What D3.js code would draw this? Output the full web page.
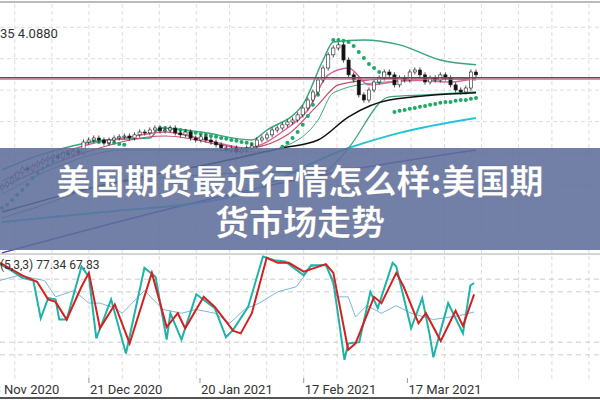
<!DOCTYPE html>
<html><head><meta charset="utf-8">
<script src="https://cdn.jsdelivr.net/npm/d3@7"></script>
<style>body{margin:0;background:#fff}svg{display:block}</style>
</head><body>
<svg id="c" width="600" height="400"></svg>
<script>
// closes per trading day (index 0..93)
const closes = [3.709,3.720,3.737,3.755,3.772,3.765,3.779,3.790,
  3.800,3.807,3.814,3.807,3.825,3.818,3.832,3.825,
  3.863,3.870,3.877,3.870,3.860,3.870,3.877,3.881,
  3.884,3.877,3.888,3.898,3.895,3.905,3.912,3.902,
  3.905,3.912,3.895,3.888,3.898,3.877,3.870,3.881,
  3.870,3.863,3.853,3.842,3.835,3.842,3.828,3.835,
  3.842,3.849,3.870,3.877,3.888,3.905,3.912,3.923,
  3.933,3.940,3.958,3.982,4.010,4.038,4.080,4.122,
  4.168,4.192,4.203,4.150,4.098,4.080,4.028,4.010,
  4.045,4.073,4.087,4.108,4.098,4.063,4.087,4.080,
  4.108,4.115,4.098,4.073,4.087,4.080,4.098,4.087,
  4.063,4.045,4.038,4.052,4.108,4.098];

const fastMA = [[0,3.725],[8,3.795],[16,3.850],[24,3.877],[32,3.898],[40,3.870],[48,3.842],[56,3.912],[60,3.975],[64,4.098],[68,4.122],[72,4.063],[80,4.080],[88,4.073],[93,4.087]];
const slowMA = [[0,3.705],[16,3.825],[32,3.884],[48,3.842],[56,3.888],[62,3.993],[66,4.063],[72,4.080],[80,4.087],[93,4.080]];
const bbUpper = [[0,3.765],[7,3.815],[14,3.850],[20,3.870],[29,3.877],[31,3.912],[39,3.898],[49,3.870],[52,3.905],[59,3.993],[63,4.150],[65,4.213],[71,4.220],[78,4.203],[86,4.150],[93,4.133]];
const bbMid = [[0,3.680],[10,3.770],[24,3.835],[40,3.835],[50,3.828],[58,3.870],[62,3.940],[65,4.035],[73,4.070],[85,4.080],[93,4.087]];
const bbLower = [[0,3.597],[7,3.636],[20,3.713],[40,3.748],[55,3.758],[62,3.748],[66,3.800],[68,3.842],[76,4.021],[83,4.028],[93,4.038]];
const ma50 = [[0,3.618],[20,3.713],[40,3.783],[55,3.842],[62,3.870],[68,3.951],[76,4.010],[93,4.035]];
const ma100 = [[0,3.583],[20,3.618],[45,3.671],[68,3.842],[78,3.895],[93,3.947]];
const ma200 = [[0,3.475],[65,3.755],[93,3.835]];
// parabolic SAR segments: [first index, values]
const sar = [
  [0,[3.632,3.643,3.660,3.678,3.695,3.713,3.737,3.755,3.770,3.782,3.795]],
  [18,[3.867,3.863,3.863,3.860,3.860,3.856,3.853]],
  [31,[3.912,3.912,3.909,3.905,3.905,3.902,3.898,3.895,3.891,3.888,3.884,3.881,3.877,3.874,3.870,3.867,3.863,3.860,3.856,3.853]],
  [55,[3.846,3.860,3.877,3.898,3.923,3.954,3.993,4.028]],
  [65,[4.220,4.220,4.217,4.213,4.199,4.178,4.157,4.136,4.122,4.108,4.098]],
  [77,[3.968,3.972,3.975,3.979,3.982,3.986,3.989,3.993,3.996,4.000,4.003,4.003,4.007,4.010,4.010,4.014,4.017]]
];
const lastPrice = 4.0880;

// stochastic, day offsets from 27 Nov 2020
const kDays = [0,3,6,9,11,13,15,16,18,22,24,26,30,34,39,42,45,46,49,53,58,61,63,67,71,74,77,82,84,88,90,93,94,97,100,102,106,107,111,114,116,117,121,125,127,128];
const kVals = [92,87,81,79,49,65,64,48,48,90,82,33,64,21,89,82,32,53,32,68,57,34,40,58,98,95,94,83,91,91,78,16,29,30,70,57,93,90,41,65,36,18,61,37,75,77];
const dDays = [0,6,10,13,15,18,22,24,27,31,35,41,45,48,50,55,58,63,65,68,72,75,78,82,88,90,94,96,101,103,107,109,113,115,119,123,125,128];
const dVals = [93,83,78,64,62,48,74,85,41,60,29,85,42,53,41,66,58,39,37,53,97,93,93,86,92,85,24,29,66,61,85,74,45,53,31,55,43,68];
const sDays = [0,5,12,15,20,24,27,31,33,39,44,49,53,58,62,66,70,75,80,84,88,91,94,96,99,103,107,111,117,124,128];
const sVals = [79,83,79,66,71,61,61,57,53,71,56,53,56,53,45,56,61,70,74,90,92,66,66,50,59,53,59,53,48,51,54];

const tickDates = ["23 Nov 2020","21 Dec 2020","20 Jan 2021","17 Feb 2021","17 Mar 2021"];
const legendText = "(5,3,3) 77.34 67.83";
const priceText = "35 4.0880";
const title = ["美国期货最近行情怎么样:美国期", "货市场走势"];

const svg = d3.select("#c");
const parse = d3.timeParse("%d %b %Y");
const t0 = parse("27 Nov 2020");
const xTime = d3.scaleTime().domain([t0, d3.timeDay.offset(t0, 162.6)]).range([0, 600]);
const xi = d3.scaleLinear().domain([0, 93]).range([2, 476]);
const y = d3.scaleLinear().domain([3.4675, 4.36]).range([255, 0]);
const ys = d3.scaleLinear().domain([0, 100]).range([380, 254]);

// grid
const gridX = d3.range(-6, 17).map(k => xTime(d3.timeDay.offset(parse("21 Dec 2020"), k * 29 / 3)));
svg.append("g").selectAll("line").data(gridX).join("line")
  .attr("x1", d => d).attr("x2", d => d).attr("y1", 4).attr("y2", 380)
  .attr("stroke", "#ddd").attr("stroke-dasharray", "4,3");
svg.append("g").selectAll("line").data(d3.range(4.2645, 3.5, -0.11)).join("line")
  .attr("x1", 0).attr("x2", 600).attr("y1", d => y(d)).attr("y2", d => y(d))
  .attr("stroke", "#ddd").attr("stroke-dasharray", "4,3");
svg.append("g").selectAll("line").data([80, 70, 30, 20]).join("line")
  .attr("x1", 0).attr("x2", 600).attr("y1", d => ys(d)).attr("y2", d => ys(d))
  .attr("stroke", "#ccc").attr("stroke-dasharray", "5,4");
svg.append("line").attr("x1", 0).attr("x2", 600).attr("y1", 2).attr("y2", 2).attr("stroke", "#bbb").attr("stroke-width", 2);
svg.append("line").attr("x1", 0).attr("x2", 600).attr("y1", 254).attr("y2", 254).attr("stroke", "#aaa");
svg.append("line").attr("x1", 0).attr("x2", 600).attr("y1", 398).attr("y2", 398).attr("stroke", "#555").attr("stroke-width", 2);

const line = d3.line().x(d => xi(d[0])).y(d => y(d[1])).curve(d3.curveMonotoneX);
function draw(data, color, w) {
  svg.append("path").attr("d", line(data)).attr("fill", "none").attr("stroke", color).attr("stroke-width", w);
}
draw(ma200, "#5b3fa8", 1.5);
draw(ma100, "#22c4d6", 2);
draw(bbLower, "#3aa57a", 1.3);
draw(bbUpper, "#3aa57a", 1.5);
draw(bbMid, "#3aa57a", 1);
draw(ma50, "#111", 1.5);
draw(slowMA, "#c0506a", 1.2);
draw(fastMA, "#e0609a", 1.5);

// SAR dots
sar.forEach(([s, vals]) => {
  svg.append("g").selectAll("circle").data(vals).join("circle")
    .attr("cx", (d, i) => xi(s + i)).attr("cy", d => y(d)).attr("r", 2).attr("fill", "#1fa866");
});

// candles
const candles = closes.map((c, i) => ({ i, o: i ? closes[i - 1] : c - 0.01, c }));
const cg = svg.append("g").selectAll("g").data(candles).join("g");
cg.append("line").attr("x1", d => xi(d.i)).attr("x2", d => xi(d.i))
  .attr("y1", d => y(Math.max(d.o, d.c) + 0.009)).attr("y2", d => y(Math.min(d.o, d.c) - 0.009))
  .attr("stroke", "#222").attr("stroke-width", 0.8);
cg.append("rect").attr("x", d => xi(d.i) - 1.6).attr("width", 3.2)
  .attr("y", d => y(Math.max(d.o, d.c))).attr("height", d => Math.max(1, Math.abs(y(d.o) - y(d.c))))
  .attr("fill", d => d.c >= d.o ? "#fff" : "#111").attr("stroke", "#222").attr("stroke-width", 0.6);

// last price line
svg.append("line").attr("x1", 0).attr("x2", 600).attr("y1", y(lastPrice) + 1.5).attr("y2", y(lastPrice) + 1.5).attr("stroke", "#7a86c0").attr("stroke-width", 1);
svg.append("line").attr("x1", 0).attr("x2", 600).attr("y1", y(lastPrice)).attr("y2", y(lastPrice)).attr("stroke", "#a0304a").attr("stroke-width", 1.5);

svg.append("text").attr("x", 0).attr("y", 38).attr("font-family", "Roboto").attr("font-size", 13).attr("fill", "#333").text(priceText);

// stochastic
const sl = (days, vals) => d3.line().x((d, i) => xTime(d3.timeDay.offset(t0, days[i]))).y(d => ys(d)).curve(d3.curveLinear)(vals);
svg.append("path").attr("d", sl(sDays, sVals)).attr("fill", "none").attr("stroke", "#7ab8d8").attr("stroke-width", 1);
svg.append("path").attr("d", sl(kDays, kVals)).attr("fill", "none").attr("stroke", "#1fb3a8").attr("stroke-width", 2);
svg.append("path").attr("d", sl(dDays, dVals)).attr("fill", "none").attr("stroke", "#d42020").attr("stroke-width", 2);
svg.append("text").attr("x", 0).attr("y", 269).attr("font-family", "Roboto").attr("font-size", 12).attr("fill", "#333").text(legendText);

// date axis (first label runs off the left edge, as in the source)
const ticks = tickDates.map(parse);
svg.append("g").selectAll("line").data(ticks).join("line")
  .attr("x1", d => xTime(d)).attr("x2", d => xTime(d)).attr("y1", 378).attr("y2", 383).attr("stroke", "#999");
svg.append("g").selectAll("text").data(ticks).join("text")
  .attr("x", d => xTime(d) + 1).attr("y", 394).attr("font-family", "Roboto").attr("font-size", 13).attr("fill", "#333")
  .text((d, i) => tickDates[i]);

// banner
svg.append("rect").attr("x", 0).attr("y", 148).attr("width", 600).attr("height", 102).attr("fill", "rgb(95,110,155)").attr("opacity", 0.88);
svg.append("g").selectAll("text").data(title).join("text")
  .attr("x", 300).attr("y", (d, i) => 194 + i * 41).attr("text-anchor", "middle")
  .attr("font-family", "Noto Sans CJK SC").attr("font-weight", "bold").attr("font-size", 34)
  .attr("fill", "#fff").attr("stroke", "rgba(60,60,80,0.4)").attr("stroke-width", 0.5)
  .text(d => d);
</script>
</body></html>
